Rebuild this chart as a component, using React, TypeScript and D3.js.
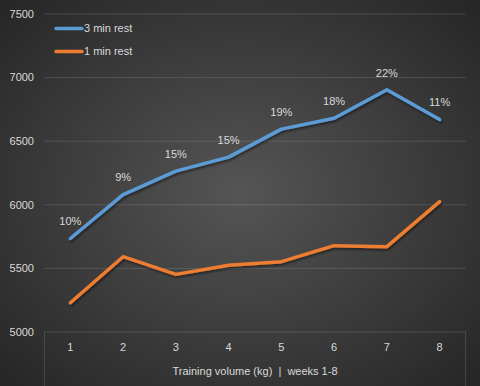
import React from 'react';
import * as d3 from 'd3';

const weeks = ['1', '2', '3', '4', '5', '6', '7', '8'];
const rest3 = [5735, 6080, 6265, 6375, 6595, 6680, 6905, 6670];
const rest1 = [5230, 5592, 5453, 5524, 5553, 5679, 5671, 6025];
const gainLabels = ['10%', '9%', '15%', '15%', '19%', '18%', '22%', '11%'];
const yTicks = [5000, 5500, 6000, 6500, 7000, 7500];

const width = 480;
const height = 386;
const font = 'Liberation Sans, Arial, sans-serif';
const textColor = '#d9d9d9';

const App: React.FC = () => {
    const left = 44;
    const right = 466;
    const top = 14;
    const bottom = 332;

    const x = d3.scaleBand<string>().domain(weeks).range([left, right]);
    const y = d3.scaleLinear().domain([5000, 7500]).range([bottom, top]);
    const cx = (w: string) => (x(w) || 0) + x.bandwidth() / 2;

    const line = d3.line<number>()
        .x((_, i) => cx(weeks[i]))
        .y(d => y(d));

    const series = [
        { name: '3 min rest', values: rest3, color: '#5b9bd5' },
        { name: '1 min rest', values: rest1, color: '#ed7d31' },
    ];

    return (
        <svg width={width} height={height} style={{ position: 'absolute', left: 0, top: 0 }}>
            <defs>
                <radialGradient id="bg" cx="50%" cy="50%" r="70%">
                    <stop offset="0%" stopColor="#555555" />
                    <stop offset="100%" stopColor="#262626" />
                </radialGradient>
                <filter id="shadow" x="-10%" y="-10%" width="120%" height="130%">
                    <feDropShadow dx="1" dy="2" stdDeviation="1.2" floodColor="#000" floodOpacity="0.45" />
                </filter>
            </defs>
            <rect width={width} height={height} fill="url(#bg)" />

            {/* gridlines + y labels */}
            {yTicks.map(t => (
                <g key={t}>
                    <line x1={left} x2={right} y1={y(t)} y2={y(t)} stroke="#ffffff" strokeOpacity={0.13} strokeWidth={1} />
                    <text x={34} y={y(t)} dy="0.35em" textAnchor="end" fill={textColor} fontSize={11} fontFamily={font}>{t}</text>
                </g>
            ))}

            {/* category box under axis */}
            <line x1={left + 0.5} x2={left + 0.5} y1={bottom} y2={height} stroke="#ffffff" strokeOpacity={0.13} />
            <line x1={right - 0.5} x2={right - 0.5} y1={bottom} y2={height} stroke="#ffffff" strokeOpacity={0.13} />

            {weeks.map(w => (
                <text key={w} x={cx(w)} y={347} dy="0.35em" textAnchor="middle" fill={textColor} fontSize={11} fontFamily={font}>{w}</text>
            ))}
            <text x={(left + right) / 2} y={371} dy="0.35em" textAnchor="middle" fill={textColor} fontSize={11} fontFamily={font}>
                {'Training volume (kg)\u00a0 |\u00a0 weeks 1-8'}
            </text>

            {/* series */}
            {series.map(s => (
                <path key={s.name} d={line(s.values) || ''} fill="none" stroke={s.color} strokeWidth={3.5}
                    strokeLinejoin="round" strokeLinecap="round" filter="url(#shadow)" />
            ))}

            {/* data labels */}
            {rest3.map((v, i) => (
                <text key={i} x={cx(weeks[i])} y={y(v) - 17} dy="0.35em" textAnchor="middle" fill={textColor} fontSize={11} fontFamily={font}>
                    {gainLabels[i]}
                </text>
            ))}

            {/* legend */}
            {series.map((s, i) => (
                <g key={s.name} transform={`translate(56,${28.5 + i * 23})`}>
                    <line x1={0} x2={26} y1={0} y2={0} stroke={s.color} strokeWidth={3.5} strokeLinecap="round" />
                    <text x={28} y={0} dy="0.35em" fill={textColor} fontSize={11} fontFamily={font}>{s.name}</text>
                </g>
            ))}
        </svg>
    );
};

export default App;
